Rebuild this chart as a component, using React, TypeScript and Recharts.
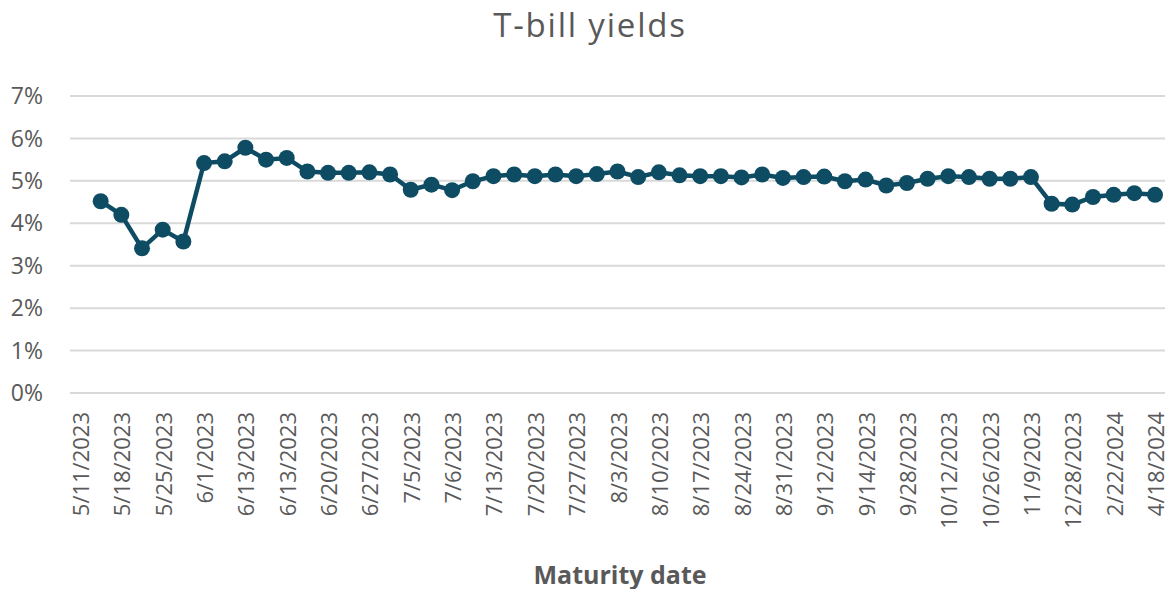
import { LineChart, Line, XAxis, YAxis, CartesianGrid } from "recharts";

// labels shown on every other maturity date
const tickLabels = [
  "5/11/2023", "5/18/2023", "5/25/2023", "6/1/2023", "6/13/2023", "6/13/2023",
  "6/20/2023", "6/27/2023", "7/5/2023", "7/6/2023", "7/13/2023", "7/20/2023",
  "7/27/2023", "8/3/2023", "8/10/2023", "8/17/2023", "8/24/2023", "8/31/2023",
  "9/12/2023", "9/14/2023", "9/28/2023", "10/12/2023", "10/26/2023", "11/9/2023",
  "12/28/2023", "2/22/2024", "4/18/2024",
];

// yield in percent, one per maturity date
const yields: (number | null)[] = [
  null, 4.52, 4.2, 3.41, 3.85, 3.57, 5.42, 5.46, 5.78, 5.5,
  5.54, 5.22, 5.19, 5.19, 5.2, 5.15, 4.79, 4.91, 4.78, 4.99,
  5.11, 5.15, 5.11, 5.15, 5.11, 5.16, 5.22, 5.09, 5.2, 5.13,
  5.11, 5.11, 5.08, 5.15, 5.07, 5.09, 5.1, 4.99, 5.03, 4.89,
  4.95, 5.05, 5.11, 5.09, 5.05, 5.05, 5.09, 4.46, 4.44, 4.62,
  4.67, 4.71, 4.67,
];

const yTicks = [0, 1, 2, 3, 4, 5, 6, 7];

const data = yields.map((v, i) => ({
  date: i % 2 === 0 ? tickLabels[i / 2] : "",
  yield: v,
}));

const FONT = "'Open Sans', 'Liberation Sans', sans-serif";
const TEXT = "#595959";
const LINE = "#0e4c63";

const DateTick = ({ x, y, payload }: any) => {
  if (!payload.value) return null;
  const ty = y + 19;
  return (
    <text
      x={x}
      y={ty}
      transform={`rotate(-90, ${x}, ${ty})`}
      textAnchor="end"
      dominantBaseline="central"
      fontSize={22}
      fontFamily={FONT}
      fill={TEXT}
    >
      {payload.value}
    </text>
  );
};

export default function App() {
  return (
    <div
      style={{
        position: "absolute",
        left: 0,
        top: 0,
        width: 1169,
        height: 589,
        background: "#fff",
        fontFamily: FONT,
      }}
    >
      <div
        style={{
          position: "absolute",
          left: 0,
          top: 2,
          width: 1180,
          textAlign: "center",
          fontSize: 33,
          color: TEXT,
          letterSpacing: 1.8,
        }}
      >
        T-bill yields
      </div>

      <LineChart
        width={1169}
        height={589}
        data={data}
        margin={{ top: 96, right: 4, bottom: 0, left: 0 }}
      >
        <CartesianGrid vertical={false} stroke="#d9d9d9" strokeWidth={2} />
        <XAxis
          dataKey="date"
          interval={0}
          height={196}
          padding={{ left: 10, right: 10 }}
          tickLine={false}
          axisLine={false}
          tickSize={0}
          tickMargin={0}
          tick={<DateTick />}
        />
        <YAxis
          width={70}
          domain={[0, 7]}
          ticks={yTicks}
          tickFormatter={(v) => `${v}%`}
          tickLine={false}
          axisLine={false}
          tickSize={0}
          tickMargin={27}
          tick={{ fontSize: 23, fill: TEXT, fontFamily: FONT }}
        />
        <Line
          dataKey="yield"
          stroke={LINE}
          strokeWidth={4.5}
          dot={{ r: 8, fill: LINE, stroke: LINE, strokeWidth: 0 }}
          isAnimationActive={false}
        />
      </LineChart>

      <div
        style={{
          position: "absolute",
          left: 0,
          top: 557,
          width: 1240,
          textAlign: "center",
          fontSize: 25,
          fontWeight: 700,
          color: TEXT,
        }}
      >
        Maturity date
      </div>
    </div>
  );
}
